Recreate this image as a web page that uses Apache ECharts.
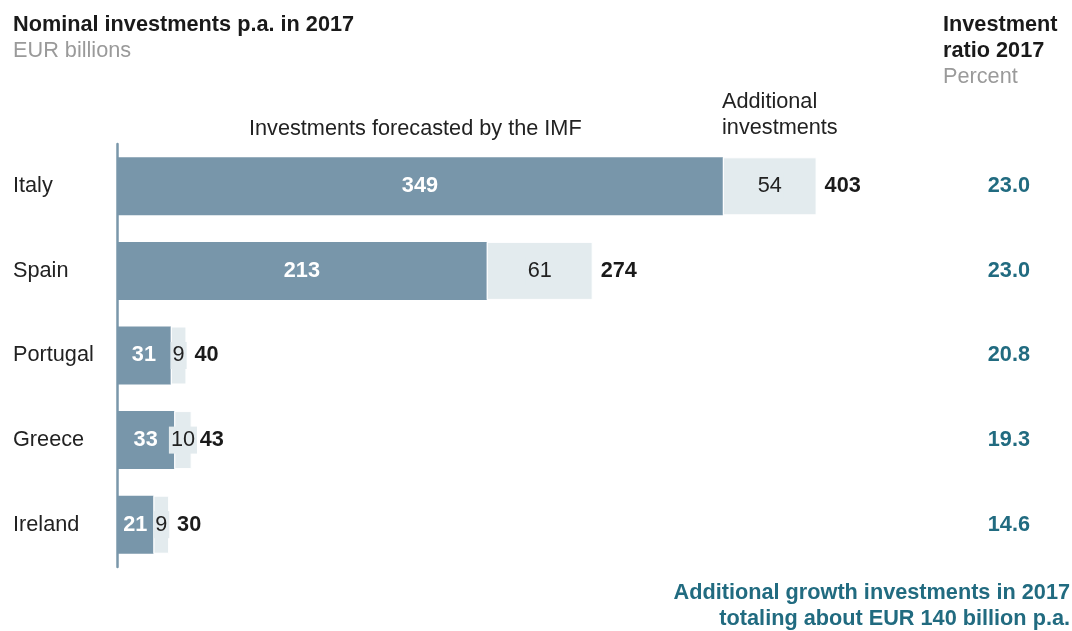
<!DOCTYPE html>
<html><head><meta charset="utf-8">
<script src="https://cdn.jsdelivr.net/npm/echarts@6/dist/echarts.min.js"></script>
<style>html,body{margin:0;padding:0;background:#fff}#c{width:1072px;height:631px}</style>
</head><body><div id="c"></div>
<script>
const countries = ['Italy', 'Spain', 'Portugal', 'Greece', 'Ireland'];
const imfForecast = [349, 213, 31, 33, 21];
const additional = [54, 61, 9, 10, 9];
const totals = [403, 274, 40, 43, 30];
const ratio2017 = ['23.0', '23.0', '20.8', '19.3', '14.6'];

const FONT = 'Liberation Sans';
const FS = 21.7;
const chart = echarts.init(document.getElementById('c'), null, {renderer: 'canvas'});
function txt(x, y, text, weight, color, align) {
  return {type: 'text', x: x, y: y, style: {text: text, fontFamily: FONT, fontSize: FS, fontWeight: weight,
    fill: color, lineHeight: 26, align: align || 'left', verticalAlign: 'middle'}};
}
chart.setOption({
  animation: false,
  textStyle: {fontFamily: FONT},
  grid: {left: 117, width: 868, top: 144, bottom: 64, containLabel: false},
  xAxis: {type: 'value', min: 0, max: 500, show: false},
  yAxis: [{
    type: 'category', data: countries, inverse: true,
    axisLine: {show: true, lineStyle: {color: '#7a97aa', width: 2.5}},
    axisTick: {show: false},
    axisLabel: {align: 'left', margin: 104, fontSize: FS, color: '#222', fontFamily: FONT, padding: [6, 0, 0, 0]}
  }, {
    type: 'category', data: countries, inverse: true, position: 'right',
    axisLine: {show: false}, axisTick: {show: false},
    axisLabel: {align: 'right', margin: 45, fontSize: FS, fontWeight: 'bold', color: '#216b80', fontFamily: FONT,
      padding: [4, 0, 0, 0], formatter: (v, i) => ratio2017[i]}
  }],
  series: [{
    type: 'bar', stack: 'a', data: imfForecast, barWidth: 58,
    itemStyle: {color: '#7896aa'},
    label: {show: true, position: 'inside', color: '#fff', fontWeight: 'bold', fontSize: FS, fontFamily: FONT}
  }, {
    type: 'bar', stack: 'a', data: additional, barWidth: 58,
    itemStyle: {color: '#e3ebee', borderColor: '#fff', borderWidth: 1},
    label: {show: true, position: 'inside', color: '#222', fontSize: FS, fontFamily: FONT,
      backgroundColor: '#e3ebee', padding: [3, 2, 2, 2]}
  }, {
    type: 'scatter', symbolSize: 0, itemStyle: {opacity: 1},
    data: totals.map((t, i) => [t, countries[i]]),
    label: {show: true, position: 'right', distance: 8, color: '#1a1a1a', fontWeight: 'bold', fontSize: FS, fontFamily: FONT,
      formatter: p => p.value[0]}
  }],
  graphic: [
    txt(13, 25, 'Nominal investments p.a. in 2017', 'bold', '#1a1a1a'),
    txt(13, 51, 'EUR billions', 'normal', '#9a9a9a'),
    txt(943, 25, 'Investment', 'bold', '#1a1a1a'),
    txt(943, 51, 'ratio 2017', 'bold', '#1a1a1a'),
    txt(943, 77, 'Percent', 'normal', '#9a9a9a'),
    txt(249, 129, 'Investments forecasted by the IMF', 'normal', '#222'),
    txt(722, 102, 'Additional', 'normal', '#222'),
    txt(722, 128, 'investments', 'normal', '#222'),
    txt(1070, 593, 'Additional growth investments in 2017', 'bold', '#216b80', 'right'),
    txt(1070, 619, 'totaling about EUR 140 billion p.a.', 'bold', '#216b80', 'right')
  ]
});
</script></body></html>
